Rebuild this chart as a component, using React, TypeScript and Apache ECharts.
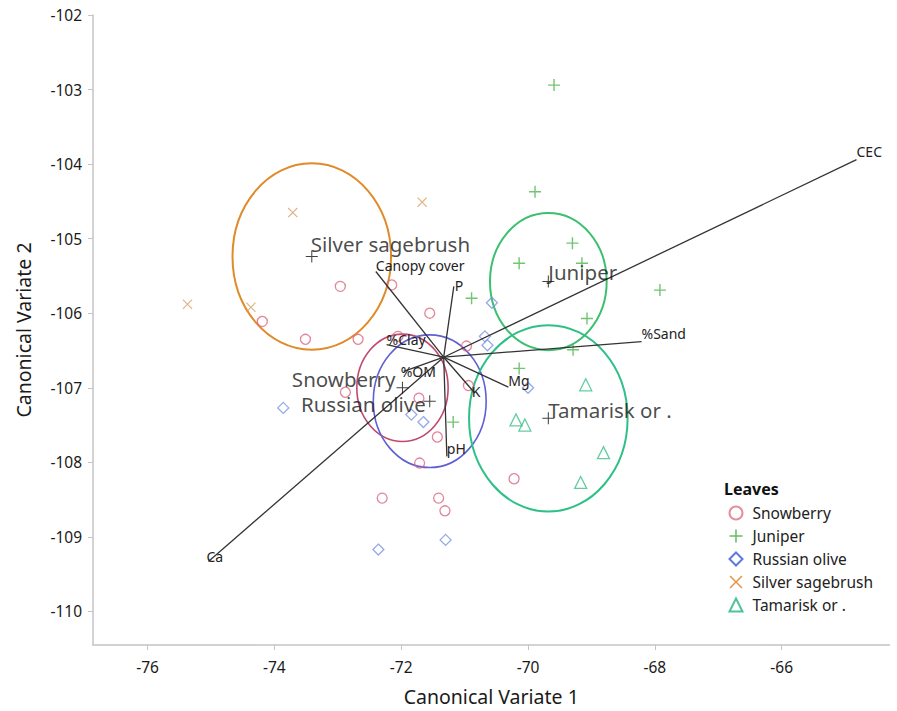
import { useEffect, useRef } from "react";
import * as echarts from "echarts";

const groupNames = ["Snowberry", "Juniper", "Russian olive", "Silver sagebrush", "Tamarisk or ."];

const snowberryPts = [
  [-72.96, -105.64], [-74.19, -106.11], [-73.51, -106.35], [-72.68, -106.35],
  [-72.15, -105.62], [-71.55, -106.0], [-70.97, -106.44], [-72.05, -106.31],
  [-72.88, -107.06], [-71.72, -107.14], [-70.94, -106.97], [-71.43, -107.66],
  [-71.71, -108.01], [-72.3, -108.48], [-71.41, -108.48], [-71.31, -108.65],
  [-70.22, -108.22],
];
const juniperPts = [
  [-69.59, -102.94], [-69.89, -104.37], [-69.3, -105.06], [-70.14, -105.33],
  [-69.15, -105.33], [-67.92, -105.69], [-70.89, -105.8], [-69.07, -106.07],
  [-69.29, -106.49], [-70.14, -106.74], [-71.18, -107.46],
];
const russianOlivePts = [
  [-70.57, -105.86], [-70.68, -106.31], [-70.64, -106.43], [-73.86, -107.27],
  [-71.84, -107.36], [-71.65, -107.46], [-70.0, -107.0], [-72.36, -109.17],
  [-71.3, -109.04],
];
const silverSagebrushPts = [
  [-73.71, -104.65], [-71.67, -104.51], [-75.37, -105.88], [-74.37, -105.92],
];
const tamariskPts = [
  [-69.09, -106.96], [-70.19, -107.43], [-70.05, -107.5], [-68.81, -107.87], [-69.17, -108.27],
];

const groupMeans = [
  [-71.98, -107.0], [-69.68, -105.575], [-71.55, -107.18], [-73.41, -105.24], [-69.68, -107.41],
];
const groupRadii = [0.72, 0.92, 0.89, 1.25, 1.25];

const rayOrigin = [-71.33, -106.59];
const rayNames = ["CEC", "Ca", "%Sand", "Canopy cover", "P", "%Clay", "%OM", "Mg", "K", "pH"];
const rayEnds = [
  [-64.82, -103.94], [-75.04, -109.33], [-68.21, -106.38], [-72.4, -105.44], [-71.17, -105.64],
  [-72.23, -106.42], [-71.96, -106.78], [-70.31, -106.99], [-70.84, -107.07], [-71.28, -107.92],
];

const xTicks = [-76, -74, -72, -70, -68, -66];
const yTicks = [-110, -109, -108, -107, -106, -105, -104, -103, -102];

// styles
const FONT = '"Noto Sans", "Open Sans", sans-serif';
const pointColors = ["#D9667E", "#4DB54D", "#7D93E0", "#D9A06C", "#3CBF8C"];
const legendColors = ["#E07088", "#3DAA3D", "#3558D8", "#E07B20", "#22B47F"];
const ellipseColors = ["#C04A6E", "#3CC070", "#6060D2", "#E08A2A", "#2EC088"];
const ellipseWidths = [1.6, 2, 1.6, 2, 2];
const rayLabelOffsets: Record<string, number[]> = {
  CEC: [0, -8], Ca: [-2, -5], "%Sand": [0, -8], "Canopy cover": [0, -5.5], P: [1, -1],
  "%Clay": [0, -5], "%OM": [-3, 0], Mg: [0, -7], K: [-3, -2], pH: [0, -8],
};
const meanLabelCfg = [
  { position: "left", offset: [-1, -9] },
  { position: "right", offset: [-6, -10] },
  { position: "left", offset: [2, 3] },
  { position: "right", offset: [-7, -12.5] },
  { position: "right", offset: [-6, -8] },
];

const plusPath = "path://M5.3,0 H6.7 V5.3 H12 V6.7 H6.7 V12 H5.3 V6.7 H0 V5.3 H5.3 Z";
const crossPath = "path://M0,1 L1,0 L6,5 L11,0 L12,1 L7,6 L12,11 L11,12 L6,7 L1,12 L0,11 L5,6 Z";
const meanPath = "path://M6.4,0 H7.6 V6.4 H14 V7.6 H7.6 V14 H6.4 V7.6 H0 V6.4 H6.4 Z";

export default function App() {
  const ref = useRef<HTMLDivElement>(null);
  useEffect(() => {
    if (!ref.current) return;
    const chart = echarts.init(ref.current, undefined, { renderer: "svg" });
    const groupData = [snowberryPts, juniperPts, russianOlivePts, silverSagebrushPts, tamariskPts];
    const symbols = ["circle", plusPath, "diamond", crossPath, "triangle"];
    const sizes = [10, 12, 11, 10, 12];
    const hollow = [true, false, true, false, true];

    const groupSeries = groupNames.map((name, i) => ({
      name,
      type: "scatter",
      data: groupData[i],
      symbol: symbols[i],
      symbolSize: sizes[i],
      z: 3,
      itemStyle: hollow[i]
        ? { color: "rgba(0,0,0,0)", borderColor: pointColors[i], borderWidth: 1.3 }
        : { color: pointColors[i] },
    }));

    const option: any = {
      animation: false,
      backgroundColor: "#ffffff",
      textStyle: { fontFamily: FONT },
      grid: { left: 93, right: 7.5, top: 15, bottom: 66 },
      xAxis: {
        type: "value",
        min: -76.86,
        max: -64.3,
        name: "Canonical Variate 1",
        nameLocation: "middle",
        nameGap: 41,
        nameTextStyle: { fontSize: 19.5, color: "#1a1a1a", fontFamily: FONT },
        axisLine: { show: true, lineStyle: { color: "#c4c4c4", width: 1.5 } },
        axisTick: { show: true, length: 5, lineStyle: { color: "#c4c4c4" }, customValues: xTicks },
        axisLabel: { fontSize: 15.5, color: "#1a1a1a", margin: 14, customValues: xTicks, fontFamily: FONT },
        splitLine: { show: false },
      },
      yAxis: {
        type: "value",
        min: -110.45,
        max: -102,
        name: "Canonical Variate 2",
        nameLocation: "middle",
        nameGap: 60,
        nameTextStyle: { fontSize: 19.5, color: "#1a1a1a", fontFamily: FONT },
        axisLine: { show: true, lineStyle: { color: "#c4c4c4", width: 1.5 } },
        axisTick: { show: true, length: 5, lineStyle: { color: "#c4c4c4" }, customValues: yTicks },
        axisLabel: { fontSize: 15.5, color: "#1a1a1a", margin: 11, customValues: yTicks, fontFamily: FONT },
        splitLine: { show: false },
      },
      legend: {
        orient: "vertical",
        left: 723.5,
        top: 500,
        itemGap: 7,
        itemWidth: 13,
        itemHeight: 13,
        textStyle: { fontSize: 15.5, color: "#222", fontFamily: FONT, padding: [0, 0, 0, 5] },
        data: groupNames.map((name, i) => ({
          name,
          icon: symbols[i],
          itemStyle: hollow[i]
            ? { color: "rgba(0,0,0,0)", borderColor: legendColors[i], borderWidth: 2 }
            : { color: legendColors[i], borderWidth: 0 },
        })),
      },
      graphic: [
        {
          type: "text",
          left: 724,
          top: 481,
          style: { text: "Leaves", font: `bold 16px ${FONT}`, fill: "#111" },
        },
      ],
      series: [
        {
          name: "ellipses",
          type: "custom",
          z: 2,
          silent: true,
          data: groupMeans.map((m, i) => [m[0], m[1], groupRadii[i]]),
          encode: { x: 0, y: 1 },
          renderItem: (params: any, api: any) => {
            const c = api.coord([api.value(0), api.value(1)]);
            const r = api.value(2);
            const s = api.size([r, r]);
            return {
              type: "ellipse",
              shape: { cx: c[0], cy: c[1], rx: s[0], ry: s[1] },
              style: { fill: "none", stroke: ellipseColors[params.dataIndex], lineWidth: ellipseWidths[params.dataIndex] },
            };
          },
        },
        {
          name: "rays",
          type: "custom",
          z: 4,
          silent: true,
          data: rayEnds.map((e) => [e[0], e[1]]),
          encode: { x: 0, y: 1 },
          renderItem: (params: any, api: any) => {
            const o = api.coord(rayOrigin);
            const e = api.coord([api.value(0), api.value(1)]);
            const nm = rayNames[params.dataIndex];
            const off = rayLabelOffsets[nm] || [0, -7];
            return {
              type: "group",
              children: [
                {
                  type: "line",
                  shape: { x1: o[0], y1: o[1], x2: e[0], y2: e[1] },
                  style: { stroke: "#333", lineWidth: 1.3 },
                },
                {
                  type: "text",
                  style: {
                    text: nm,
                    x: e[0] + off[0],
                    y: e[1] + off[1],
                    fill: "#222",
                    font: `14px ${FONT}`,
                    lineHeight: 14,
                    textAlign: "left",
                    textVerticalAlign: "middle",
                    align: "left",
                    verticalAlign: "middle",
                  },
                },
              ],
            };
          },
        },
        ...groupSeries,
        {
          name: "means",
          type: "scatter",
          z: 5,
          symbol: meanPath,
          symbolSize: 12,
          itemStyle: { color: "#111" },
          data: groupMeans.map((m, i) => ({
            value: m,
            label: {
              show: true,
              formatter: groupNames[i],
              position: meanLabelCfg[i].position,
              distance: 0,
              offset: meanLabelCfg[i].offset,
              fontSize: 20.5,
              lineHeight: 20,
              color: "#1a1a1a",
              fontFamily: FONT,
            },
          })),
        },
      ],
    };
    chart.setOption(option);
    return () => chart.dispose();
  }, []);
  return (
    <div
      ref={ref}
      style={{ position: "fixed", left: 0, top: 0, width: 897, height: 711, background: "#fff" }}
    />
  );
}
